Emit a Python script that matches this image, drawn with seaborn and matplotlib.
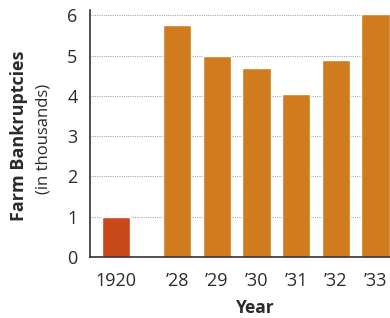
import pandas as pd
import matplotlib.pyplot as plt
import seaborn as sns

# Farm bankruptcies (in thousands)
years = [1920, 1928, 1929, 1930, 1931, 1932, 1933]
tick_labels = ["1920", "\u201928", "\u201929", "\u201930", "\u201931", "\u201932", "\u201933"]
bankruptcies = [1.0, 5.75, 5.0, 4.68, 4.04, 4.9, 6.02]
bar_colors = ["#c84a1a", "#cf7b1e", "#cf7b1e", "#cf7b1e", "#cf7b1e", "#cf7b1e", "#cf7b1e"]

# axis break between 1920 and 1928: squeeze the gap
pos = [y - 1928 if y >= 1928 else -1.54 for y in years]

df = pd.DataFrame({"pos": pos, "count": bankruptcies, "label": tick_labels})

sns.set_style("white")
plt.rcParams["font.family"] = ["Open Sans", "DejaVu Sans"]

fig = plt.figure(figsize=(3.9, 3.18), dpi=100)
ax = fig.add_axes([90 / 390, 61 / 318, 300 / 390, 247 / 318])

sns.barplot(data=df, x="pos", y="count", hue="label", palette=dict(zip(tick_labels, bar_colors)),
            native_scale=True, width=0.71, saturation=1, legend=False, ax=ax, zorder=2)

# dotted grid lines
ax.set_yticks(range(0, 7))
ax.yaxis.grid(True, linestyle=(0, (1, 1)), color="#a8a8a8", linewidth=0.8, zorder=0)
ax.set_axisbelow(True)

ax.set_xlim(-2.195, 5.365)
ax.set_ylim(0, 6.13)
ax.set_xticks(pos)
ax.set_xticklabels(tick_labels, fontsize=13, color="#2b2b2b")
ax.tick_params(axis="x", length=4, width=1, color="#3a3030", pad=7)
ax.tick_params(axis="y", length=0, pad=9, labelsize=13, labelcolor="#2b2b2b")

sns.despine(ax=ax)
for side in ["left", "bottom"]:
    ax.spines[side].set_color("#3a3030")
    ax.spines[side].set_linewidth(1.2)

ax.set_ylabel("")
ax.set_xlabel("Year", fontsize=12.5, fontweight="bold", color="#2b2b2b")
ax.xaxis.set_label_coords((255 - 90) / 300, -0.172)

# two-line y label
fig.text(19 / 390, 1 - 136 / 318, "Farm Bankruptcies", rotation=90, ha="center", va="center",
         fontsize=13, fontweight="bold", color="#2b2b2b")
fig.text(43 / 390, 1 - 139 / 318, "(in thousands)", rotation=90, ha="center", va="center",
         fontsize=12, color="#2b2b2b")

fig.savefig("out.png", dpi=100, facecolor="white")
